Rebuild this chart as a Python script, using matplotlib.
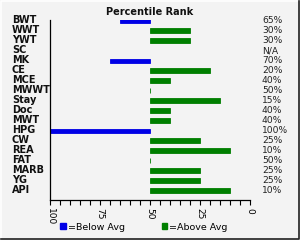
import matplotlib
matplotlib.use('Agg')
import matplotlib.pyplot as plt
from matplotlib.patches import Patch
from matplotlib.lines import Line2D

# Data.
labels = ['BWT', 'WWT', 'YWT', 'SC', 'MK', 'CE', 'MCE', 'MWWT', 'Stay', 'Doc',
          'MWT', 'HPG', 'CW', 'REA', 'FAT', 'MARB', 'YG', 'API']
ranks = [65, 30, 30, None, 70, 20, 40, 50, 15, 40,
         40, 100, 25, 10, 50, 25, 25, 10]
tick_vals = list(range(0, 101, 5))

blue = '#0000e6'
green = '#007f00'
bg = '#f3f3f3'

fig = plt.figure(figsize=(3.0, 2.4), dpi=100)
fig.patch.set_facecolor(bg)
ax = fig.add_axes([50/300, 40/240, 200/300, 180/240])
ax.set_facecolor(bg)

# Bars grow out of the 50 mark, left for below average, right for above.
for i, v in enumerate(ranks):
    if v is None:
        continue
    col = blue if v > 50 else green
    h = 0.42 if v > 50 else 0.5
    ax.barh(i, v - 50, left=50, height=h, color=col, edgecolor=col, linewidth=0.6)
    ax.text(1.06, i, f'{v}%', transform=ax.get_yaxis_transform(), va='center',
            ha='left', fontsize=6.6, color='#222222')
ax.text(1.06, labels.index('SC'), 'N/A', transform=ax.get_yaxis_transform(),
        va='center', ha='left', fontsize=6.6, color='#222222')

for i, lab in enumerate(labels):
    ax.text(12/300, 1 - (20 + 10*i)/240, lab, transform=fig.transFigure,
            va='center', ha='left', fontsize=7, fontweight='bold', color='#111111')

ax.set_xlim(100, 0)
ax.set_ylim(17.95, -0.1)
ax.set_yticks([])
ax.set_xticks(tick_vals)
ax.set_xticklabels([str(t) if t % 25 == 0 else '' for t in tick_vals],
                   rotation=-90, fontsize=6.5)
ax.tick_params(axis='x', direction='out', length=3.5, width=0.8, pad=2)
for s in ['top', 'right']:
    ax.spines[s].set_visible(False)
ax.spines['left'].set_linewidth(0.9)
ax.spines['bottom'].set_linewidth(0.9)

fig.text(150/300, 1 - 12/240, 'Percentile Rank', ha='center', va='center',
         fontsize=7, fontweight='bold', color='#111111')

handles = [Patch(color=blue, label='=Below Avg'), Patch(color=green, label='=Above Avg')]
fig.legend(handles=handles, loc='center', bbox_to_anchor=(144/300, 1 - 227/240),
           ncol=2, frameon=False, fontsize=6.8, handlelength=0.55, handleheight=0.55,
           handletextpad=0.25, columnspacing=3.9)

# Bevelled frame round the figure.
fig.add_artist(Line2D([0.003, 0.003, 0.997], [0.003, 0.997, 0.997], transform=fig.transFigure,
                      color='white', lw=1.2))
fig.add_artist(Line2D([0.003, 0.997, 0.997], [0.003, 0.003, 0.997], transform=fig.transFigure,
                      color='#222222', lw=1.2))

plt.savefig('out.png', dpi=100, facecolor=bg)
